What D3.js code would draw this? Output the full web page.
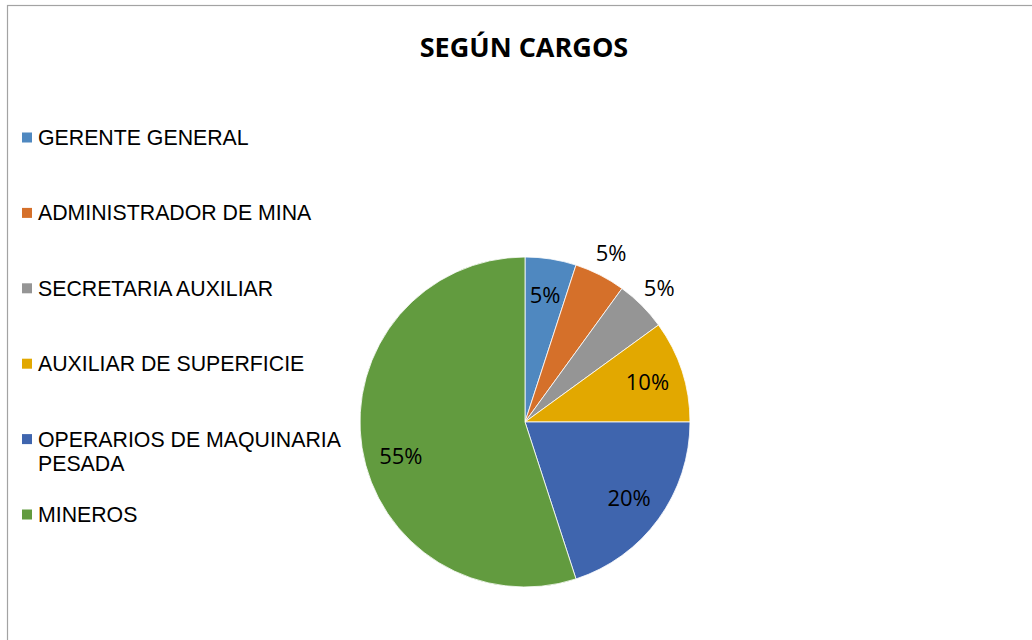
<!DOCTYPE html>
<html>
<head>
<meta charset="utf-8">
<script src="https://cdn.jsdelivr.net/npm/d3@7"></script>
<style>
  html, body { margin: 0; padding: 0; background: #fff; }
  svg { display: block; }
</style>
</head>
<body>
<script>
var categories = ["GERENTE GENERAL", "ADMINISTRADOR DE MINA", "SECRETARIA AUXILIAR",
                  "AUXILIAR DE SUPERFICIE", "OPERARIOS DE MAQUINARIA PESADA", "MINEROS"];
var values = [5, 5, 5, 10, 20, 55];
var colors = ["#4f88c0", "#d5702a", "#959595", "#e2a800", "#3f65ae", "#629b3f"];
var title = "SEGÚN CARGOS";

var w = 1032, h = 640;
var cx = 525, cy = 422, R = 165;
// labels Excel pushed outside the slice ("best fit")
var outside = ["ADMINISTRADOR DE MINA", "SECRETARIA AUXILIAR"];

var svg = d3.select("body").append("svg").attr("width", w).attr("height", h);

// chart frame (only top/left visible in the crop)
svg.append("rect")
  .attr("x", 7.5).attr("y", 5.5).attr("width", 1100).attr("height", 700)
  .attr("fill", "none").attr("stroke", "#a3a3a3").attr("stroke-width", 1.2);

svg.append("text")
  .attr("x", 524).attr("y", 57)
  .attr("text-anchor", "middle")
  .style("font-family", "'Open Sans', sans-serif")
  .style("font-weight", "bold")
  .style("font-size", "27px")
  .attr("fill", "#000")
  .text(title);

var data = categories.map(function(c, i){ return {name: c, value: values[i]}; });
var total = d3.sum(values);

var pie = d3.pie().sort(null).value(function(d){ return d.value; });
var arcs = pie(data);
var arc = d3.arc().innerRadius(0).outerRadius(R);
var color = d3.scaleOrdinal().domain(categories).range(colors);

var g = svg.append("g").attr("transform", "translate(" + cx + "," + cy + ")");
g.selectAll("path.slice").data(arcs).enter().append("path")
  .attr("class", "slice")
  .attr("d", arc)
  .attr("fill", function(d){ return color(d.data.name); })
  .attr("stroke", "#fff").attr("stroke-width", 0.8);

g.selectAll("text.lbl").data(arcs).enter().append("text")
  .attr("class", "lbl")
  .attr("transform", function(d){
    var r = outside.indexOf(d.data.name) >= 0 ? R * 1.15 : R * 0.78;
    var a = (d.startAngle + d.endAngle) / 2;
    // big slice: excel nudges its label a bit lower
    if (d.endAngle - d.startAngle > Math.PI) a -= 0.11;
    return "translate(" + (Math.sin(a) * r) + "," + (-Math.cos(a) * r) + ")";
  })
  .attr("text-anchor", "middle")
  .attr("dy", "0.36em")
  .style("font-family", "'Open Sans', sans-serif")
  .style("font-size", "22px")
  .attr("fill", "#000")
  .text(function(d){ return d3.format(".0%")(d.data.value / total); });

// legend
var ly = d3.scalePoint().domain(categories).range([145, 522]);
var maxW = 312;
var leg = svg.selectAll("g.leg").data(categories).enter().append("g")
  .attr("class", "leg")
  .attr("transform", function(d){ return "translate(0," + ly(d) + ")"; });

leg.append("rect")
  .attr("x", 22).attr("y", -12.5).attr("width", 10).attr("height", 10)
  .attr("fill", function(d){ return color(d); });

leg.append("text")
  .attr("x", 38).attr("y", 0)
  .style("font-family", "'Liberation Sans', Arial, sans-serif")
  .style("font-size", "21.3px")
  .attr("fill", "#000")
  .each(function(d){
    var t = d3.select(this);
    var words = d.split(" ");
    var line = [];
    var ts = t.append("tspan").attr("x", 38).attr("dy", 0);
    words.forEach(function(wd){
      line.push(wd);
      ts.text(line.join(" "));
      if (ts.node().getComputedTextLength() > maxW && line.length > 1) {
        line.pop();
        ts.text(line.join(" "));
        line = [wd];
        ts = t.append("tspan").attr("x", 38).attr("dy", 24).text(wd);
      }
    });
  });
</script>
</body>
</html>
